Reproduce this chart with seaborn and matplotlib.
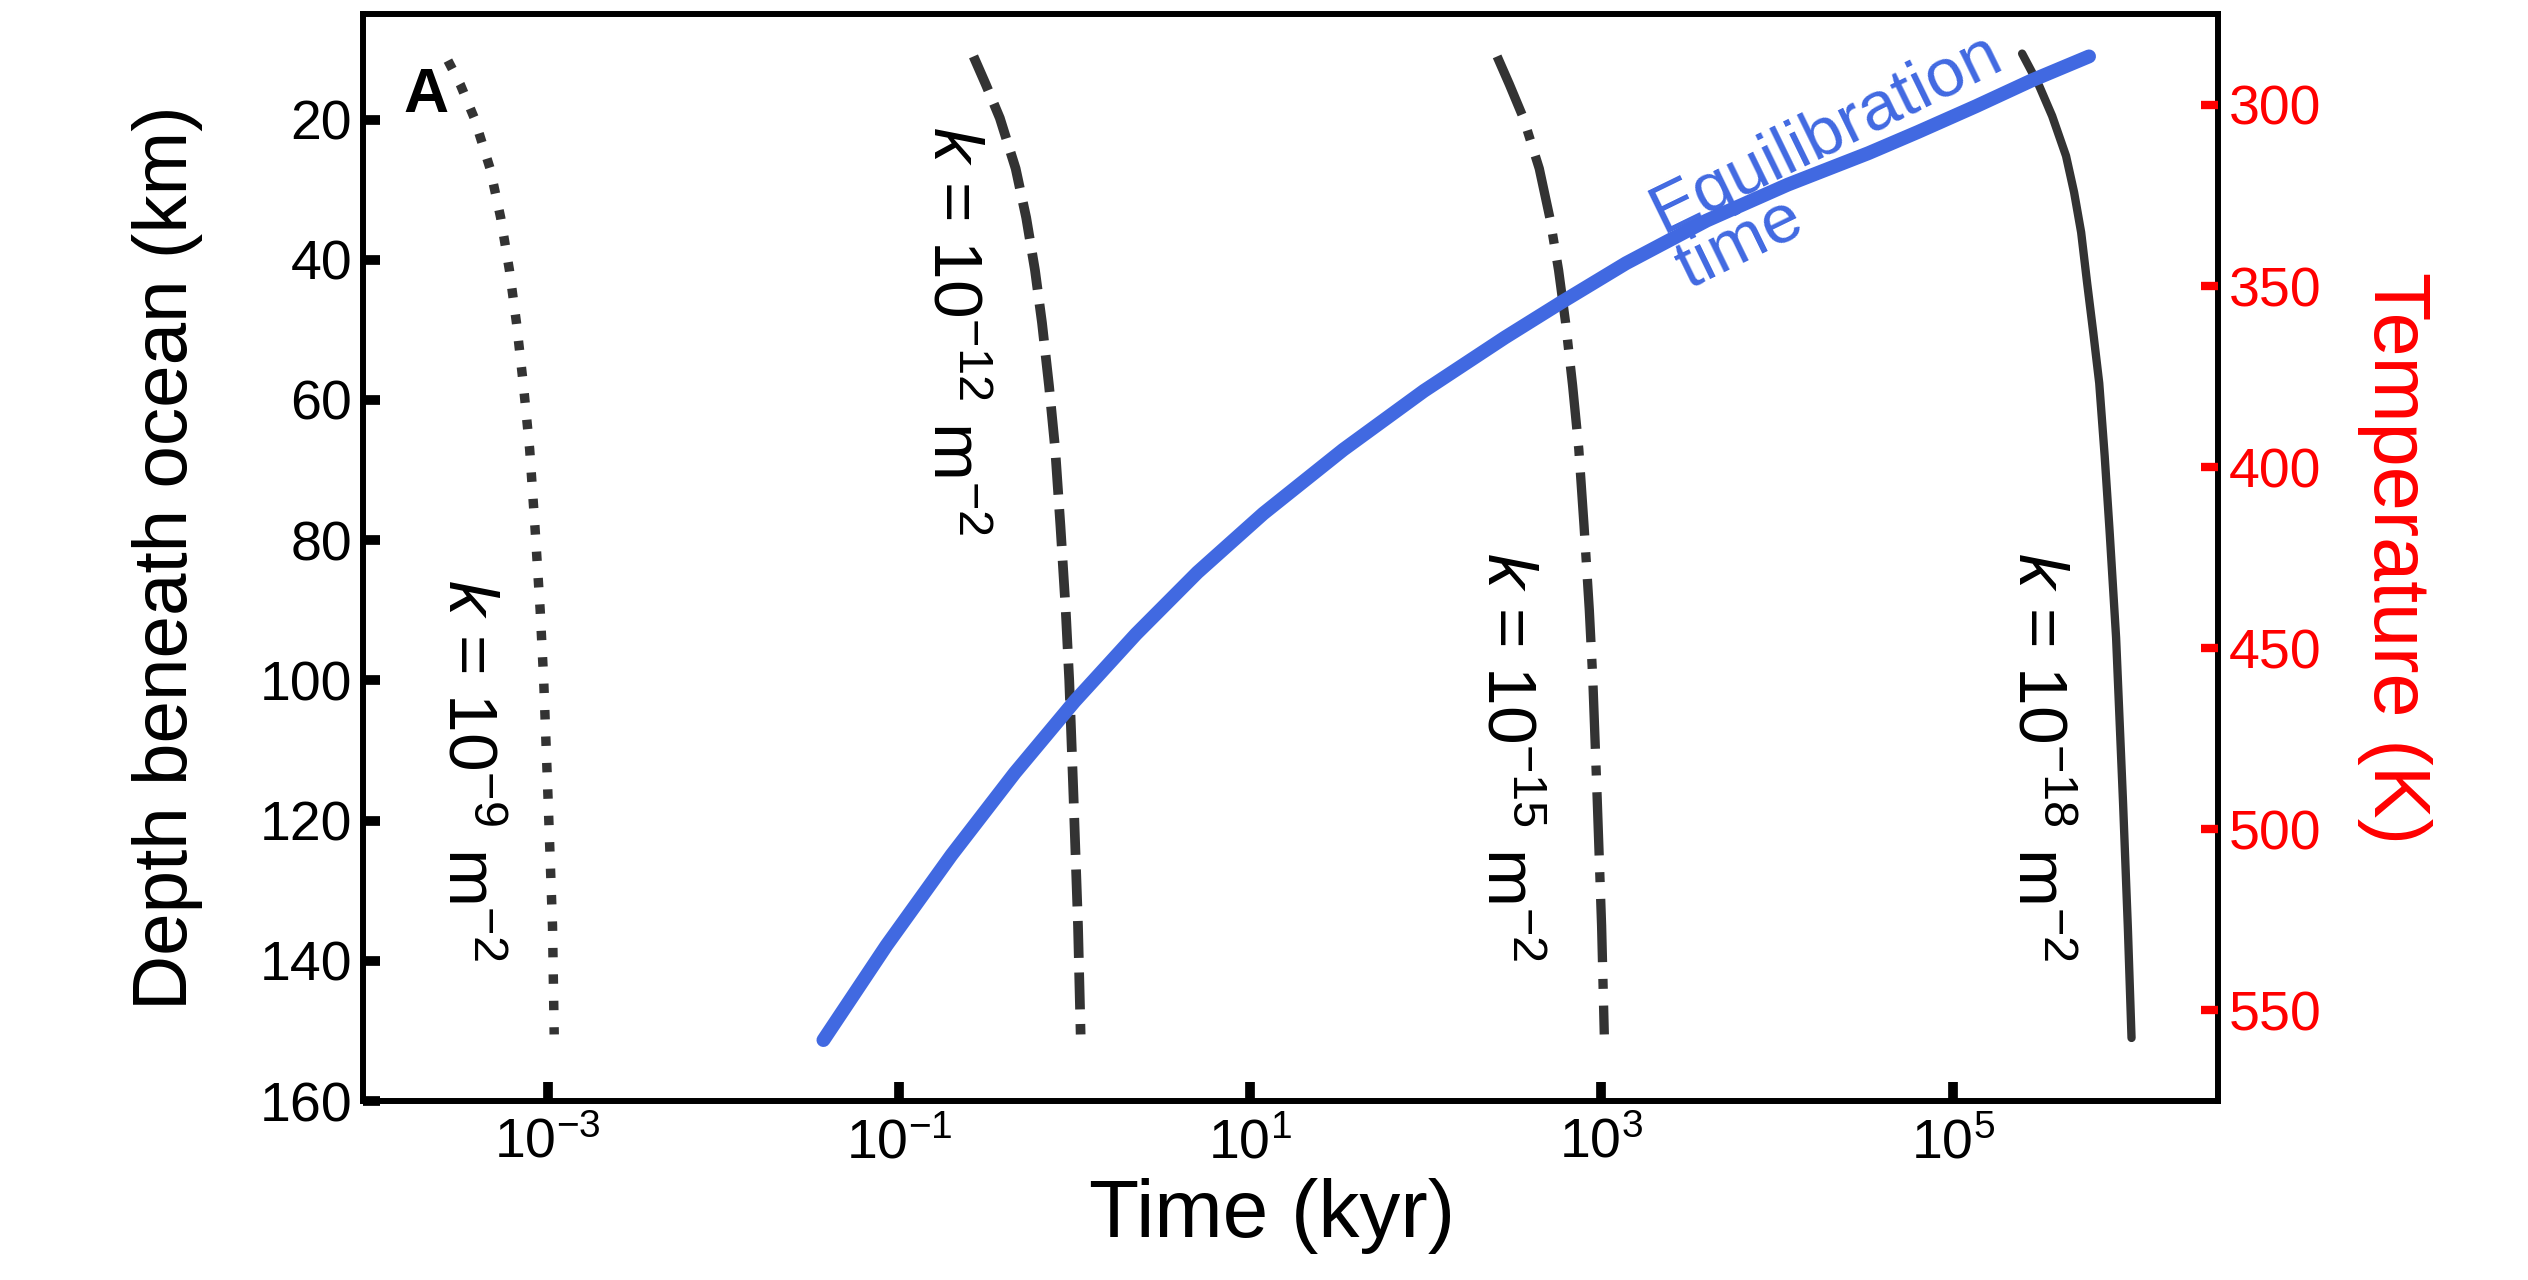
import matplotlib
matplotlib.use("Agg")
import matplotlib.pyplot as plt
from matplotlib.ticker import NullLocator
import pandas as pd
import seaborn as sns

# curves: time (kyr) against depth beneath ocean (km)
k9_time = [2.710e-4, 3.184e-4, 3.828e-4, 4.710e-4, 5.408e-4, 6.067e-4,
           6.653e-4, 7.295e-4, 7.907e-4, 8.472e-4, 9.078e-4, 9.506e-4,
           1.007e-3, 1.067e-3, 1.091e-3]
k9_depth = [11.6, 15.0, 19.8, 27.0, 34.0, 41.5, 49.0, 58.0, 67.0, 78.0,
            90.0, 100.0, 117.0, 135.0, 150.5]

k12_time = [0.2661, 0.3126, 0.3758, 0.4624, 0.5309, 0.5957, 0.6531, 0.7161,
            0.7762, 0.8318, 0.8913, 0.9333, 0.9886, 1.0471, 1.0839]
k12_depth = [11.0, 15.0, 19.8, 27.0, 34.0, 41.5, 49.0, 58.0, 67.0, 78.0,
             90.0, 100.0, 117.0, 135.0, 150.5]

k15_time = [254.7, 299.2, 359.7, 442.6, 508.2, 570.2, 625.2, 685.5, 743.0,
            796.2, 853.1, 893.3, 946.2, 1002.0, 1038.0]
k15_depth = [11.0, 15.0, 19.8, 27.0, 34.0, 41.5, 49.0, 58.0, 67.0, 78.0,
             90.0, 100.0, 117.0, 135.0, 150.5]

k18_time = [2.483e5, 3.105e5, 3.681e5, 4.416e5, 4.909e5, 5.383e5, 5.821e5,
            6.310e5, 6.823e5, 7.328e5, 7.816e5, 8.511e5, 9.333e5, 9.931e5,
            1.042e6]
k18_depth = [10.6, 15.2, 19.5, 25.2, 30.4, 36.1, 43.3, 50.4, 57.6, 68.0,
             78.7, 93.9, 117.7, 135.3, 151.0]

equil_time = [0.0372, 0.0851, 0.1995, 0.4571, 1.0, 2.239, 5.012, 11.89,
              33.88, 97.7, 281.8, 588.8, 1380.0, 3981.0, 11480.0, 33110.0,
              63100.0, 135800.0, 283100.0, 597000.0]
equil_depth = [151.3, 137.8, 124.9, 113.2, 103.0, 93.4, 84.6, 76.2, 67.1,
               58.7, 51.1, 46.1, 40.5, 34.4, 29.3, 24.8, 21.8, 18.1, 14.4,
               11.0]

k_labels = [r"$k$ = 10$^{-9}$ m$^{-2}$", r"$k$ = 10$^{-12}$ m$^{-2}$",
            r"$k$ = 10$^{-15}$ m$^{-2}$", r"$k$ = 10$^{-18}$ m$^{-2}$"]
x_ticks = [1e-3, 1e-1, 1e1, 1e3, 1e5]
depth_ticks = [20, 40, 60, 80, 100, 120, 140, 160]
temp_ticks = [300, 350, 400, 450, 500, 550]

sns.set_style("white")
plt.rcParams["font.family"] = ["Liberation Sans", "DejaVu Sans"]
plt.rcParams["mathtext.fontset"] = "custom"
plt.rcParams["mathtext.rm"] = "Liberation Sans"
plt.rcParams["mathtext.it"] = "Liberation Sans:italic"
plt.rcParams["mathtext.bf"] = "Liberation Sans:bold"
plt.rcParams["text.color"] = "black"
plt.rcParams["axes.labelcolor"] = "black"
plt.rcParams["xtick.color"] = "black"
plt.rcParams["ytick.color"] = "black"

fig = plt.figure(figsize=(25.28, 12.8), dpi=100)
ax = fig.add_axes([0.1436, 0.1398, 0.7338, 0.849])

gray = "#333333"
blue = "#4169E1"

curves = [
    (k9_time, k9_depth, (0, (1.0, 1.8)), 6.8),
    (k12_time, k12_depth, (0, (3.8, 1.5)), 7.0),
    (k15_time, k15_depth, (0, (6.8, 1.8, 1.07, 1.8)), 6.7),
    (k18_time, k18_depth, "-", 6.0),
]
for t, d, ls, lw in curves:
    df = pd.DataFrame({"time": t, "depth": d})
    sns.lineplot(data=df, x="time", y="depth", ax=ax, sort=False,
                 estimator=None, color=gray, linewidth=lw, linestyle=ls,
                 solid_joinstyle="round")

eq = pd.DataFrame({"time": equil_time, "depth": equil_depth})
sns.lineplot(data=eq, x="time", y="depth", ax=ax, sort=False,
             estimator=None, color=blue, linewidth=10,
             solid_joinstyle="round")

ax.set_xscale("log")
ax.set_xlim(8.9e-5, 3.24e6)
ax.set_ylim(160, 5)
ax.set_xticks(x_ticks)
ax.xaxis.set_minor_locator(NullLocator())
ax.set_yticks(depth_ticks)
ax.tick_params(axis="x", direction="in", length=14, width=7, labelsize=40,
               pad=12, bottom=True, top=False)
ax.tick_params(axis="y", direction="in", length=12, width=7, labelsize=40,
               pad=8, left=True, right=False)
for side in ["left", "bottom", "top", "right"]:
    ax.spines[side].set_visible(True)
    ax.spines[side].set_linewidth(4.3)
    ax.spines[side].set_color("black")

ax.set_xlabel("Time (kyr)", fontsize=59)
ax.xaxis.set_label_coords(0.49, -0.071)
ax.set_ylabel("Depth beneath ocean (km)", fontsize=55)
ax.yaxis.set_label_coords(-0.086, 0.5)

ax2 = ax.twinx()
ax2.set_ylim(575, 275)
ax2.set_yticks(temp_ticks)
ax2.tick_params(axis="y", direction="in", length=12, width=6, colors="red",
                labelsize=40, pad=8, right=True)
for side in ["left", "bottom", "top", "right"]:
    ax2.spines[side].set_visible(False)
ax2.set_ylabel("Temperature (K)", fontsize=57, color="red", rotation=270,
               va="bottom")
ax2.yaxis.set_label_coords(1.075, 0.5)
ax2.grid(False)

# curve annotations
label_pos = [(0.0558, 0.305), (0.317, 0.709), (0.616, 0.317), (0.902, 0.317)]
for (x, y), txt in zip(label_pos, k_labels):
    ax.text(x, y, txt, transform=ax.transAxes, rotation=-90, fontsize=50,
            ha="center", va="center")

ax.text(0.7154, 0.7454, "Equilibration\ntime", transform=ax.transAxes,
        rotation=26, rotation_mode="anchor", ha="left", va="baseline",
        fontsize=50, color=blue, linespacing=0.95)

ax.text(0.0216, 0.910, "A", transform=ax.transAxes, fontsize=45,
        fontweight="bold", ha="left", va="baseline")

fig.savefig("out.png", dpi=100, facecolor="white")
